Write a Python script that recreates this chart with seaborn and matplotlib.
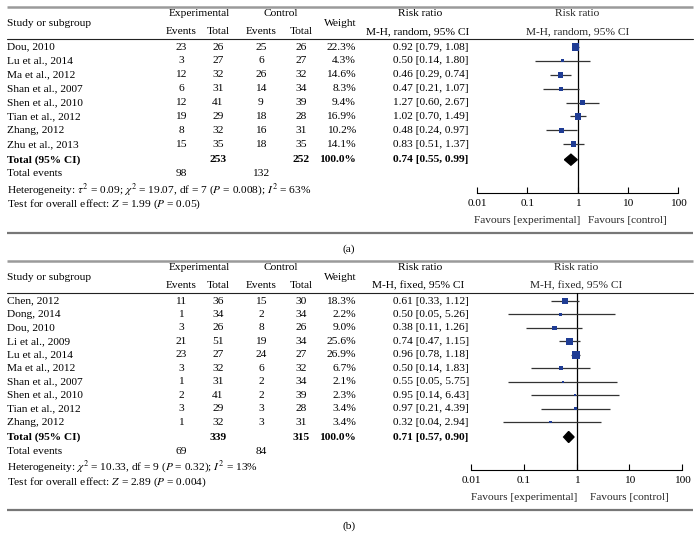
import matplotlib
matplotlib.use("Agg")
import matplotlib.pyplot as plt
import seaborn as sns
import pandas as pd

# ---------------- data ----------------
studies_a = ["Dou, 2010", "Lu et al., 2014", "Ma et al., 2012", "Shan et al., 2007",
             "Shen et al., 2010", "Tian et al., 2012", "Zhang, 2012", "Zhu et al., 2013"]
exp_events_a = [23, 3, 12, 6, 12, 19, 8, 15]
exp_total_a = [26, 27, 32, 31, 41, 29, 32, 35]
ctl_events_a = [25, 6, 26, 14, 9, 18, 16, 18]
ctl_total_a = [26, 27, 32, 34, 39, 28, 31, 35]
weight_a = [22.3, 4.3, 14.6, 8.3, 9.4, 16.9, 10.2, 14.1]
rr_a = [0.92, 0.50, 0.46, 0.47, 1.27, 1.02, 0.48, 0.83]
lo_a = [0.79, 0.14, 0.29, 0.21, 0.60, 0.70, 0.24, 0.51]
hi_a = [1.08, 1.80, 0.74, 1.07, 2.67, 1.49, 0.97, 1.37]
total_a = {"exp_total": 253, "ctl_total": 252, "weight": 100.0, "rr": 0.74, "lo": 0.55, "hi": 0.99,
           "exp_events": 98, "ctl_events": 132}
method_a = "M-H, random, 95% CI"
het_a = r"Heterogeneity: $\tau^2$ = 0.09; $\chi^2$ = 19.07, df = 7 ($P$ = 0.008); $I^2$ = 63%"
test_a = r"Test for overall effect: $Z$ = 1.99 ($P$ = 0.05)"

studies_b = ["Chen, 2012", "Dong, 2014", "Dou, 2010", "Li et al., 2009", "Lu et al., 2014",
             "Ma et al., 2012", "Shan et al., 2007", "Shen et al., 2010", "Tian et al., 2012", "Zhang, 2012"]
exp_events_b = [11, 1, 3, 21, 23, 3, 1, 2, 3, 1]
exp_total_b = [36, 34, 26, 51, 27, 32, 31, 41, 29, 32]
ctl_events_b = [15, 2, 8, 19, 24, 6, 2, 2, 3, 3]
ctl_total_b = [30, 34, 26, 34, 27, 32, 34, 39, 28, 31]
weight_b = [18.3, 2.2, 9.0, 25.6, 26.9, 6.7, 2.1, 2.3, 3.4, 3.4]
rr_b = [0.61, 0.50, 0.38, 0.74, 0.96, 0.50, 0.55, 0.95, 0.97, 0.32]
lo_b = [0.33, 0.05, 0.11, 0.47, 0.78, 0.14, 0.05, 0.14, 0.21, 0.04]
hi_b = [1.12, 5.26, 1.26, 1.15, 1.18, 1.83, 5.75, 6.43, 4.39, 2.94]
total_b = {"exp_total": 339, "ctl_total": 315, "weight": 100.0, "rr": 0.71, "lo": 0.57, "hi": 0.90,
           "exp_events": 69, "ctl_events": 84}
method_b = "M-H, fixed, 95% CI"
het_b = r"Heterogeneity: $\chi^2$ = 10.33, df = 9 ($P$ = 0.32); $I^2$ = 13%"
test_b = r"Test for overall effect: $Z$ = 2.89 ($P$ = 0.004)"

tick_values = [0.01, 0.1, 1, 10, 100]
tick_labels = ["0.01", "0.1", "1", "10", "100"]

# ---------------- style ----------------
sns.set_style("white")
plt.rcParams["font.family"] = ["Liberation Serif", "DejaVu Serif"]
plt.rcParams["mathtext.fontset"] = "stix"
FS = 8.2
SQ_COLOR = "#1f3c94"
LINE_COLOR = "#333333"

W, H = 700, 533
fig = plt.figure(figsize=(7, 5.33), dpi=100)
bg = fig.add_axes([0, 0, 1, 1])
bg.set_xlim(0, W)
bg.set_ylim(H, 0)
bg.axis("off")

X_LEFT, X_RIGHT = 7, 693
X_EXP_EV, X_EXP_TOT, X_CTL_EV, X_CTL_TOT = 181, 218, 261, 301
X_WEIGHT_R, X_WEIGHT_HDR = 356, 340
X_RR = 431
X_RR_HDR = 420


def txt(x, y, s, ha="center", bold=False, size=FS):
    bg.text(x, y, s, ha=ha, va="center", fontsize=size,
            fontweight="bold" if bold else "normal", color="black")


def draw_panel(top, studies, ee, et, ce, ct, wt, rr, lo, hi, tot, method, het, test,
               spacing, ax_x0, ax_x1, label):
    rule_top = top
    hdr1 = top + 7
    hdr_mid = top + 16
    hdr2 = top + 25
    hdr_line = top + 32
    first = top + 40
    rows = [first + i * spacing for i in range(len(studies))]
    y_total = rows[-1] + spacing + 1.5
    y_events = y_total + 14
    y_het = y_events + 16
    y_test = y_het + 15
    axis_y = y_total + 33
    fav_y = axis_y + 28
    rule_bot = axis_y + 40
    label_y = rule_bot + 16

    # rules
    bg.plot([X_LEFT, X_RIGHT], [rule_top, rule_top], color="#9a9a9a", lw=1.8, solid_capstyle="butt")
    bg.plot([X_LEFT, X_RIGHT], [hdr_line, hdr_line], color="#222222", lw=0.8)
    bg.plot([X_LEFT, X_RIGHT], [rule_bot, rule_bot], color="#777777", lw=1.6, solid_capstyle="butt")

    # header
    txt(X_LEFT, hdr_mid, "Study or subgroup", ha="left")
    txt((X_EXP_EV + X_EXP_TOT) / 2, hdr1, "Experimental")
    txt((X_CTL_EV + X_CTL_TOT) / 2, hdr1, "Control")
    txt(X_EXP_EV, hdr2, "Events")
    txt(X_EXP_TOT, hdr2, "Total")
    txt(X_CTL_EV, hdr2, "Events")
    txt(X_CTL_TOT, hdr2, "Total")
    txt(X_WEIGHT_HDR, hdr_mid, "Weight")
    txt(X_RR_HDR, hdr1, "Risk ratio")
    txt(X_RR_HDR - 2, hdr2, method)

    # rows
    for i, y in enumerate(rows):
        txt(X_LEFT, y, studies[i], ha="left")
        txt(X_EXP_EV, y, str(ee[i]))
        txt(X_EXP_TOT, y, str(et[i]))
        txt(X_CTL_EV, y, str(ce[i]))
        txt(X_CTL_TOT, y, str(ct[i]))
        txt(X_WEIGHT_R, y, f"{wt[i]:.1f}%", ha="right")
        txt(X_RR, y, f"{rr[i]:.2f} [{lo[i]:.2f}, {hi[i]:.2f}]")

    # total
    txt(X_LEFT, y_total, "Total (95% CI)", ha="left", bold=True)
    txt(X_EXP_TOT, y_total, str(tot["exp_total"]), bold=True)
    txt(X_CTL_TOT, y_total, str(tot["ctl_total"]), bold=True)
    txt(X_WEIGHT_R, y_total, f"{tot['weight']:.1f}%", ha="right", bold=True)
    txt(X_RR, y_total, f"{tot['rr']:.2f} [{tot['lo']:.2f}, {tot['hi']:.2f}]", bold=True)
    txt(X_LEFT, y_events, "Total events", ha="left")
    txt(X_EXP_EV, y_events, str(tot["exp_events"]))
    txt(X_CTL_EV, y_events, str(tot["ctl_events"]))
    txt(X_LEFT, y_het, het, ha="left")
    txt(X_LEFT, y_test, test, ha="left")
    txt(349, label_y, label)

    # forest axes: y data == pixel y
    ax = fig.add_axes([ax_x0 / W, 1 - axis_y / H, (ax_x1 - ax_x0) / W, (axis_y - hdr_line) / H])
    ax.set_xscale("log")
    ax.set_xlim(tick_values[0], tick_values[-1])
    ax.set_ylim(axis_y, hdr_line)
    ax.patch.set_alpha(0)
    for s in ["top", "left", "right"]:
        ax.spines[s].set_visible(False)
    ax.spines["bottom"].set_color("black")
    ax.spines["bottom"].set_linewidth(0.8)

    df = pd.DataFrame({"rr": rr, "lo": lo, "hi": hi, "weight": wt, "y": rows})
    ax.hlines(df["y"], df["lo"], df["hi"], color=LINE_COLOR, lw=0.9, zorder=2)
    ax.axvline(1, color="black", lw=0.9, zorder=1)
    sns.scatterplot(data=df, x="rr", y="y", size="weight", sizes=(0, 36), size_norm=(0, 30),
                    marker="s", color=SQ_COLOR, linewidth=0, legend=False, ax=ax, zorder=3)
    ax.fill([tot["lo"], tot["rr"], tot["hi"], tot["rr"]],
            [y_total, y_total - 5.5, y_total, y_total + 5.5], color="black", zorder=3)
    ax.set_ylim(axis_y, hdr_line)
    ax.set_xlim(tick_values[0], tick_values[-1])
    ax.set_xlabel("")
    ax.set_ylabel("")
    ax.set_yticks([])
    ax.set_xticks(tick_values)
    ax.set_xticklabels(tick_labels, fontsize=FS)
    ax.minorticks_off()
    ax.tick_params(axis="x", direction="in", length=4, width=0.8, pad=4.5, bottom=True, colors="black")

    ax.text(1, hdr1, "Risk ratio", ha="center", va="center", fontsize=FS, clip_on=False)
    ax.text(1, hdr2, method, ha="center", va="center", fontsize=FS, clip_on=False)
    ax.text(0.1, fav_y, "Favours [experimental]", ha="center", va="center", fontsize=FS, clip_on=False)
    ax.text(10, fav_y, "Favours [control]", ha="center", va="center", fontsize=FS, clip_on=False)


draw_panel(7, studies_a, exp_events_a, exp_total_a, ctl_events_a, ctl_total_a, weight_a,
           rr_a, lo_a, hi_a, total_a, method_a, het_a, test_a, 13.9, 477, 678, "(a)")
draw_panel(261, studies_b, exp_events_b, exp_total_b, ctl_events_b, ctl_total_b, weight_b,
           rr_b, lo_b, hi_b, total_b, method_b, het_b, test_b, 13.45, 471, 682, "(b)")

fig.savefig("out.png", dpi=100)
